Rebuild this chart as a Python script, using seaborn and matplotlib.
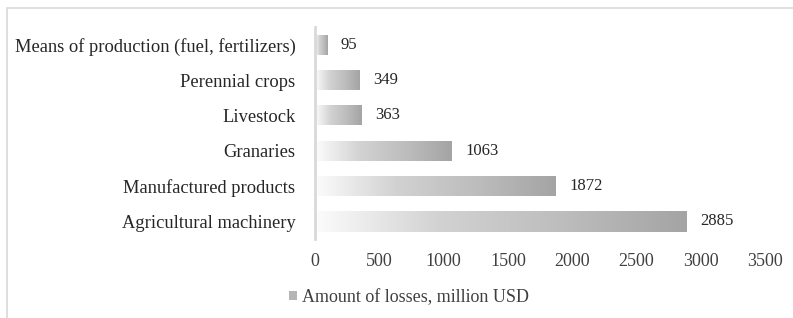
import numpy as np
import pandas as pd
import seaborn as sns
import matplotlib.pyplot as plt
from matplotlib.patches import Patch, Rectangle
from matplotlib.colors import LinearSegmentedColormap

# Données
categories = ["Means of production (fuel, fertilizers)", "Perennial crops", "Livestock",
              "Granaries", "Manufactured products", "Agricultural machinery"]
losses = [95, 349, 363, 1063, 1872, 2885]
x_ticks = [0, 500, 1000, 1500, 2000, 2500, 3000, 3500]
legend_label = "Amount of losses, million USD"

df = pd.DataFrame({"category": categories, "losses": losses})

sns.set_style("white")
plt.rcParams['font.family'] = ['Liberation Serif', 'DejaVu Serif']
fs = 13

fig = plt.figure(figsize=(7.93, 3.18), dpi=100)
ax = fig.add_axes([0.397, 0.248, 0.568, 0.667])

sns.barplot(data=df, y="category", x="losses", orient="h", color="#B0B0B0",
            width=0.57, ax=ax)

# dégradé blanc -> gris dans chaque barre
cmap = LinearSegmentedColormap.from_list("grad", ["#FCFCFC", "#D2D2D2", "#BDBDBD", "#A4A4A4"])
grad = np.linspace(0, 1, 256).reshape(1, -1)
for p in ax.patches:
    x0, y0 = p.get_x(), p.get_y()
    w, h = p.get_width(), p.get_height()
    p.set_facecolor("none")
    p.set_edgecolor("none")
    im = ax.imshow(grad, cmap=cmap, aspect="auto", extent=[x0, x0 + w, y0 + h, y0],
                   zorder=2)
    im.set_clip_path(p)

ax.set_xlim(0, 3500)
ax.set_ylim(5.5, -0.5)
ax.set_xticks(x_ticks)
ax.set_xlabel("")
ax.set_ylabel("")

for s in ["top", "right", "bottom"]:
    ax.spines[s].set_visible(False)
ax.spines["left"].set_color("#D9D9D9")
ax.spines["left"].set_linewidth(2)

ax.tick_params(axis="x", length=0, pad=10, labelsize=fs, labelcolor="#404040")
ax.tick_params(axis="y", length=0, pad=14, labelsize=13.3, labelcolor="#262626")

ax.bar_label(ax.containers[0], labels=[str(v) for v in losses], padding=10,
             fontsize=12, color="#262626")

handle = Patch(facecolor="#B5B5B5", edgecolor="none")
fig.legend([handle], [legend_label], loc="center", bbox_to_anchor=(0.516, 0.065),
           frameon=False, fontsize=fs, handlelength=0.45, handleheight=0.45,
           handletextpad=0.3, labelcolor="#404040")

# cadre du graphique
fig.patches.append(Rectangle((7 / 793, -0.1), 1.2, 1 - 8 / 318 + 0.1,
                             transform=fig.transFigure, fill=False,
                             edgecolor="#D9D9D9", linewidth=1.2))

plt.savefig("out.png", dpi=100)
